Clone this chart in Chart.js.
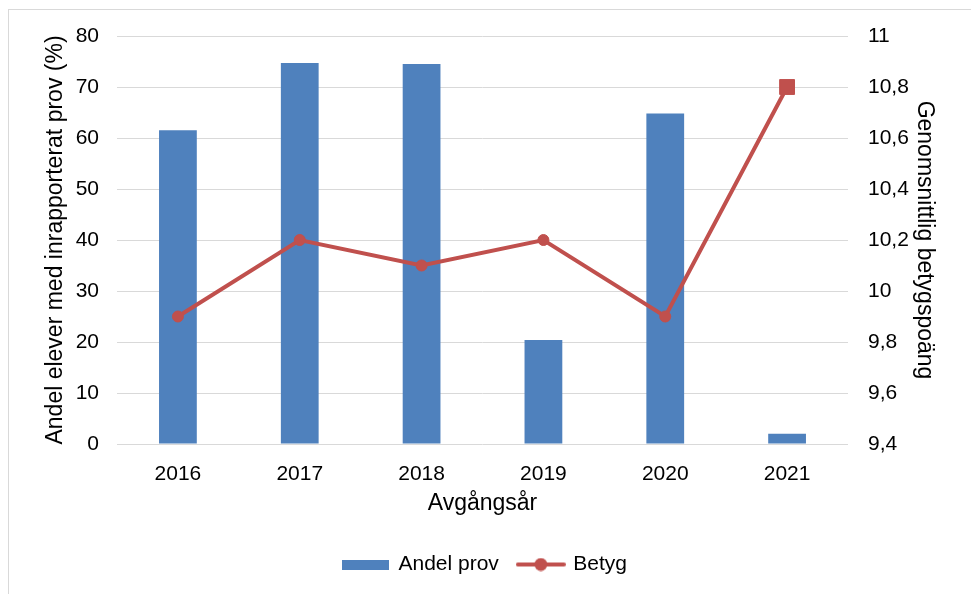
<!DOCTYPE html>
<html lang="sv">
<head>
<meta charset="utf-8">
<title>Andel prov och betyg</title>
<script src="https://cdn.jsdelivr.net/npm/chart.js@4/dist/chart.umd.min.js"></script>
<style>
  body { margin: 0; background: #fff; }
  #frame { position: absolute; left: 8px; top: 9px; width: 990px; height: 610px; border: 1px solid #d9d9d9; }
  #chart { position: absolute; left: 0; top: 0; }
</style>
</head>
<body>
<div id="frame"></div>
<canvas id="chart" width="971" height="594"></canvas>
<script>
// Data
const years = ['2016', '2017', '2018', '2019', '2020', '2021'];
const andelProv = [61.5, 74.7, 74.5, 20.4, 64.8, 2.0];
const betyg = [9.9, 10.2, 10.1, 10.2, 9.9, 10.8];
const betygPointStyles = ['circle', 'circle', 'circle', 'circle', 'circle', 'rect'];
const betygPointRadius = [5.5, 5.5, 5.5, 5.5, 5.5, 10.5];

const blue = '#4F81BD';
const red = '#C0504D';
const font = 'Arial, "Liberation Sans", sans-serif';

// Legend symbols: a wide bar box and a line with a dot
function barIcon() {
  const c = document.createElement('canvas');
  c.width = 47; c.height = 10;
  const g = c.getContext('2d');
  g.fillStyle = blue;
  g.fillRect(0, 0, 47, 10);
  return c;
}

function lineIcon() {
  const c = document.createElement('canvas');
  c.width = 50; c.height = 14;
  const g = c.getContext('2d');
  g.strokeStyle = red;
  g.lineWidth = 4;
  g.lineCap = 'round';
  g.beginPath();
  g.moveTo(2, 7); g.lineTo(48, 7);
  g.stroke();
  g.fillStyle = red;
  g.beginPath();
  g.arc(25, 7, 6.5, 0, Math.PI * 2);
  g.fill();
  return c;
}

const legendIcons = [barIcon(), lineIcon()];

function renderChart() {
  const ctx = document.getElementById('chart').getContext('2d');
  new Chart(ctx, {
    type: 'bar',
    data: {
      labels: years,
      datasets: [
        {
          type: 'bar',
          label: 'Andel prov',
          data: andelProv,
          backgroundColor: blue,
          barPercentage: 0.31,
          categoryPercentage: 1,
          yAxisID: 'y',
          order: 1,
        },
        {
          type: 'line',
          label: 'Betyg',
          data: betyg,
          borderColor: red,
          backgroundColor: red,
          borderWidth: 4,
          pointStyle: betygPointStyles,
          pointRadius: betygPointRadius,
          pointBorderWidth: 1,
          pointBackgroundColor: red,
          pointBorderColor: red,
          tension: 0,
          yAxisID: 'y1',
          order: 0,
        },
      ],
    },
    options: {
      responsive: false,
      animation: false,
      layout: { padding: { top: 36, left: 0, right: 0, bottom: 9 } },
      plugins: {
        tooltip: { enabled: false },
        legend: {
          position: 'bottom',
          labels: {
            usePointStyle: true,
            pointStyleWidth: 44,
            padding: 20,
            color: '#000',
            font: { family: font, size: 21 },
            sort: (a, b) => a.datasetIndex - b.datasetIndex,
            generateLabels: (chart) => {
              const items = Chart.defaults.plugins.legend.labels.generateLabels(chart);
              items.forEach((it) => { it.pointStyle = legendIcons[it.datasetIndex]; });
              return items;
            },
          },
        },
      },
      scales: {
        x: {
          grid: { display: false },
          border: { display: false },
          ticks: { color: '#000', padding: 10, font: { family: font, size: 21 } },
          title: {
            display: true,
            text: 'Avgångsår',
            color: '#000',
            font: { family: font, size: 23 },
            padding: { top: 0, bottom: 17 },
          },
          afterFit: (scale) => { scale.height = 90; },
        },
        y: {
          position: 'left',
          min: 0,
          max: 80,
          ticks: { stepSize: 10, color: '#000', padding: 18, font: { family: font, size: 21 } },
          grid: { color: '#d9d9d9', lineWidth: 1, drawTicks: false },
          border: { display: false },
          title: {
            display: true,
            text: 'Andel elever med inrapporterat prov (%)',
            color: '#000',
            font: { family: font, size: 23 },
            padding: { top: 42, bottom: 0 },
          },
          afterFit: (scale) => { scale.width = 117; },
        },
        y1: {
          position: 'right',
          min: 9.4,
          max: 11,
          ticks: {
            stepSize: 0.2,
            color: '#000',
            padding: 20,
            font: { family: font, size: 21 },
            callback: (v) => String(Math.round(v * 10) / 10).replace('.', ','),
          },
          grid: { drawOnChartArea: false, drawTicks: false },
          border: { display: false },
          title: {
            display: true,
            text: 'Genomsnittlig betygspoäng',
            color: '#000',
            font: { family: font, size: 23 },
            padding: { top: 33, bottom: 0 },
          },
          afterFit: (scale) => { scale.width = 123; },
        },
      },
    },
  });
}

renderChart();
</script>
</body>
</html>
